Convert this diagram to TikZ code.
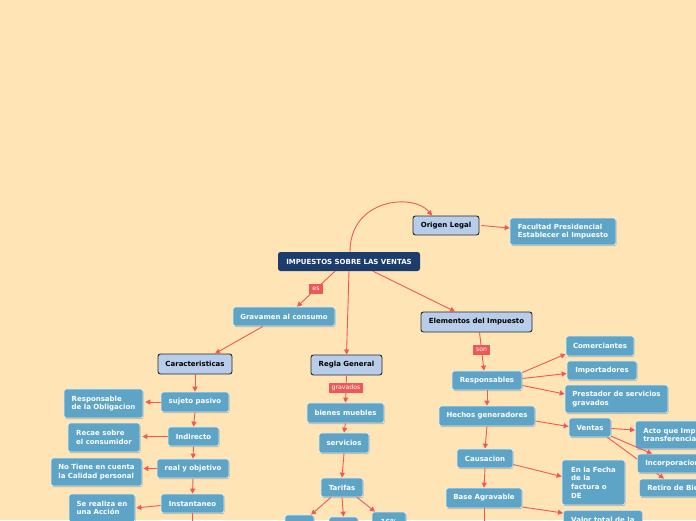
\documentclass[tikz,border=0pt]{standalone}
\usepackage{fontspec}
\setmainfont{DejaVu Sans}
\usetikzlibrary{arrows.meta,shadows,calc}
\definecolor{bgc}{RGB}{255,229,181}
\definecolor{dblue}{RGB}{28,60,110}
\definecolor{lblue}{RGB}{184,205,233}
\definecolor{mblue}{RGB}{93,164,199}
\definecolor{ered}{RGB}{240,88,88}
\tikzset{
 edge/.style={draw=ered, line width=0.9pt, -{Triangle[length=5pt,width=5pt]}},
 plainedge/.style={draw=ered, line width=0.9pt},
 nbase/.style={rounded corners=2.5pt, inner sep=0pt, font=\fontsize{7}{8.6}\selectfont\bfseries, align=left},
 darkn/.style={nbase, fill=dblue, text=white},
 lightn/.style={nbase, fill=lblue, draw=black!85, line width=0.9pt, text=black},
 midn/.style={nbase, fill=mblue, draw=white!80!mblue, line width=0.7pt, text=white,
   drop shadow={shadow xshift=0.6pt, shadow yshift=-1pt, opacity=0.25, fill=black}},
 lbl/.style={fill=ered, text=white, font=\fontsize{6.2}{7}\selectfont, inner xsep=3pt, inner ysep=0pt, minimum height=10pt},
}
\begin{document}
\begin{tikzpicture}[x=1pt,y=-1pt]
\useasboundingbox (0,0) rectangle (696,520);
\clip (0,0) rectangle (696,520);
\fill[bgc] (0,0) rectangle (696,520);

% top
\node[darkn, minimum width=142, minimum height=19] (main) at (349,261.5) {IMPUESTOS SOBRE LAS VENTAS};
\node[lightn, minimum width=66, minimum height=19] (origen) at (446,225.5) {Origen Legal};
\node[midn, minimum width=106, minimum height=27] (facultad) at (563,231.5) {Facultad Presidencial\\Establecer el Impuesto};
\node[midn, minimum width=102, minimum height=19] (grav) at (284,316.5) {Gravamen al consumo};
\node[lightn, minimum width=111, minimum height=20] (elem) at (476.5,322) {Elementos del Impuesto};
\node[lightn, minimum width=71, minimum height=20] (regla) at (346.5,365) {Regla General};
\node[lightn, minimum width=74, minimum height=20] (carac) at (195,364) {Caracteristicas};

% left column
\node[midn, minimum width=68, minimum height=20] (sujeto) at (195,402) {sujeto pasivo};
\node[midn, minimum width=79, minimum height=29] (respobl) at (103.5,403.5) {Responsable\\de la Obligacion};
\node[midn, minimum width=51, minimum height=19] (indirecto) at (193.5,436.5) {Indirecto};
\node[midn, minimum width=72, minimum height=29] (recae) at (104,437.5) {Recae sobre\\el consumidor};
\node[midn, minimum width=72, minimum height=19] (real) at (193,468.5) {real y objetivo};
\node[midn, minimum width=91, minimum height=28] (notiene) at (96.5,472) {No Tiene en cuenta\\la Calidad personal};
\node[midn, minimum width=63, minimum height=19] (instant) at (192.5,503.5) {Instantaneo};
\node[midn, minimum width=66, minimum height=28] (serealiza) at (102,508) {Se realiza en\\una Acción};
\coordinate (offl) at (192.5,530);

% middle column
\node[midn, minimum width=77, minimum height=20] (bienes) at (345.5,413) {bienes muebles};
\node[midn, minimum width=50, minimum height=20] (servicios) at (344,443) {servicios};
\node[midn, minimum width=42, minimum height=19] (tarifas) at (342,487.5) {Tarifas};
\node[midn, minimum width=29, minimum height=20] (ta) at (299.5,525) {};
\node[midn, minimum width=29, minimum height=20] (tb) at (343.5,527) {};
\node[midn, minimum width=34, minimum height=20] (tc) at (389,522) {16\%};

% right column
\node[midn, minimum width=70, minimum height=19] (resp) at (487,380.5) {Responsables};
\node[midn, minimum width=68, minimum height=20] (comerc) at (600,346) {Comerciantes};
\node[midn, minimum width=70, minimum height=19] (import) at (602,370.5) {Importadores};
\node[midn, minimum width=103, minimum height=28] (prest) at (616.5,399) {Prestador de servicios\\gravados};
\node[midn, minimum width=96, minimum height=20] (hechos) at (487,416) {Hechos generadores};
\node[midn, minimum width=42, minimum height=19] (ventas) at (590,427.5) {Ventas};
\node[midn, anchor=west, inner xsep=8pt, minimum height=28] (acto) at (635,435) {Acto que Implica\\transferencia};
\node[midn, anchor=west, inner xsep=8pt, minimum height=18] (retiro) at (639,488) {Retiro de Bienes};
\draw[edge] ([xshift=-4pt]ventas.south east) -- ([xshift=25pt]retiro.north west);
\node[midn, anchor=west, inner xsep=8pt, minimum height=19] (incorp) at (637,463.5) {Incorporacion};
\node[midn, minimum width=56, minimum height=19] (causacion) at (485,458.5) {Causacion};
\node[midn, minimum width=63, minimum height=45] (enfecha) at (593.5,482.5) {En la Fecha\\de la\\factura o\\DE};
\node[midn, minimum width=76, minimum height=20] (baseagr) at (484,498) {Base Agravable};
\node[midn, anchor=north west, minimum width=79, minimum height=28] (valor) at (563,510) {Valor total de la\\\phantom{x}};
\coordinate (offr) at (484,530);

% connectors
\draw[edge] ([xshift=1pt]main.north) .. controls (350,198) and (414,193) .. ([xshift=-14pt]origen.north);
\draw[edge] ([xshift=2pt]origen.east) -- ([yshift=3.5pt]facultad.west);
\draw[edge] ([xshift=-14pt]main.south) -- node[lbl]{es} ([xshift=13pt]grav.north);
\draw[edge] (main.south) -- (regla.north);
\draw[edge] ([xshift=24pt]main.south) -- ([xshift=-21.5pt]elem.north);
\draw[edge] ([xshift=-21pt]grav.south) -- ([xshift=20pt]carac.north);

\draw[edge] (regla.south) -- node[lbl, pos=0.46]{gravados} (bienes.north);
\draw[edge] (bienes.south) -- (servicios.north);
\draw[edge] (servicios.south) -- (tarifas.north);
\draw[edge] ([xshift=-11pt]tarifas.south) -- ([xshift=11.5pt]ta.north);
\draw[edge] (tarifas.south) -- (tb.north);
\draw[edge] ([xshift=15pt]tarifas.south) -- ([xshift=-14pt]tc.north);

\draw[edge] (carac.south) -- (sujeto.north);
\draw[edge, shorten >=2pt] (sujeto.west) -- (sujeto.west -| respobl.east);
\draw[edge] (sujeto.south) -- (indirecto.north);
\draw[edge, shorten >=2pt] (indirecto.west) -- (indirecto.west -| recae.east);
\draw[edge] (indirecto.south) -- (real.north);
\draw[edge, shorten >=1pt] (real.west) -- (real.west -| notiene.east);
\draw[edge] (real.south) -- (instant.north);
\draw[edge, shorten >=1pt] ([yshift=-2pt]instant.west) -- (serealiza.east);
\draw[plainedge] (instant.south) -- (offl);

\draw[edge] ([xshift=3pt]elem.south) -- node[lbl, pos=0.45]{son} ([xshift=-3pt]resp.north);
\draw[edge] ([yshift=8pt]resp.east) -- ([yshift=-8pt]comerc.west);
\draw[edge] ([yshift=2pt]resp.east) -- ([yshift=-3pt]import.west);
\draw[edge] ([yshift=-5pt]resp.east) -- ([yshift=5pt]prest.west);
\draw[edge] (resp.south) -- (hechos.north);
\draw[edge] ([yshift=-5pt]hechos.east) -- ([yshift=1pt]ventas.west);
\draw[edge] (hechos.south) -- (causacion.north);
\draw[edge] ([yshift=-1pt]ventas.east) -- ([yshift=5pt]acto.west);
\draw[edge] ([yshift=1pt]ventas.south east) -- ([xshift=15pt]incorp.north west);
\draw[edge] ([yshift=-6pt]causacion.east) -- ([yshift=6pt]enfecha.west);
\draw[edge] (causacion.south) -- (baseagr.north);
\draw[edge] ([yshift=-9pt]baseagr.east) -- ([yshift=-3pt]valor.north west);
\draw[plainedge] (baseagr.south) -- (offr);
\end{tikzpicture}
\end{document}
